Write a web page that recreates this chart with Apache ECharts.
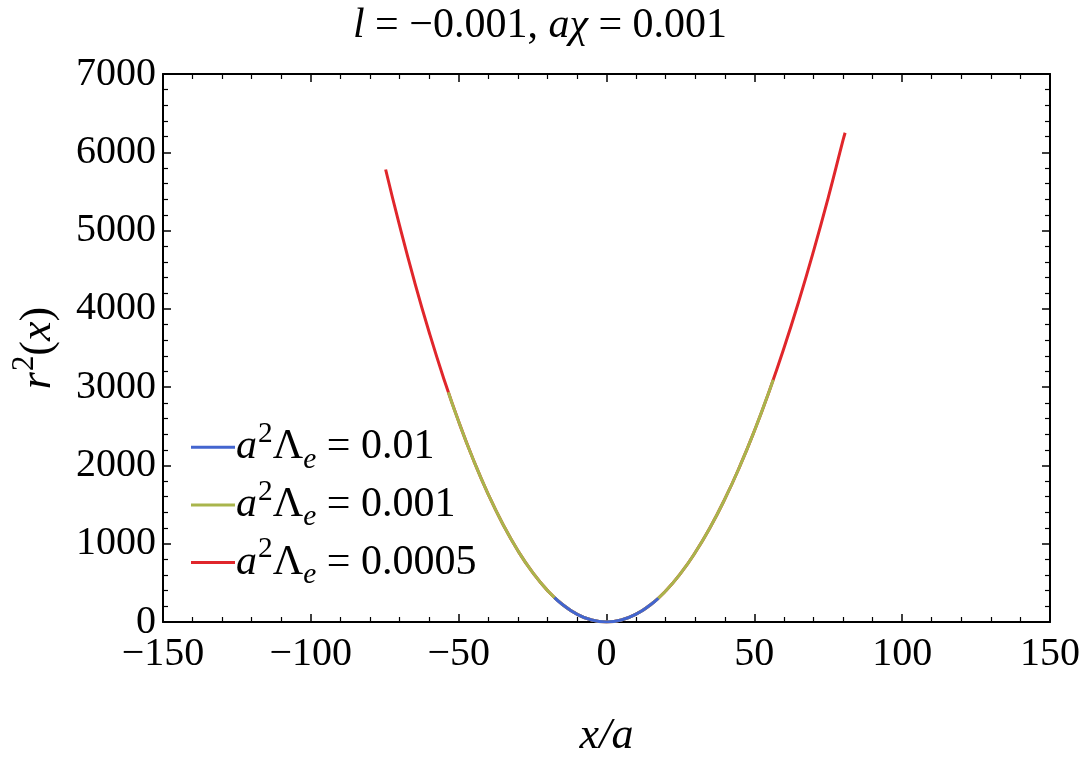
<!DOCTYPE html>
<html>
<head>
<meta charset="utf-8">
<script src="https://cdn.jsdelivr.net/npm/echarts@6/dist/echarts.min.js"></script>
<style>
  html, body { margin: 0; padding: 0; background: #fff; }
  #chart { width: 1080px; height: 768px; }
</style>
</head>
<body>
<div id="chart"></div>
<script>
// values: [x/a, r^2]
var blueData = [
    [-17.6, 312], [-15, 227], [-10, 100], [-5, 25], [0, 0],
    [5, 25], [10, 100], [15, 223], [17.5, 304]
]
var greenData = [
    [-53.5, 2936], [-50, 2560], [-45, 2069], [-40, 1631], [-35, 1246], [-30, 913],
    [-25, 633], [-20, 404], [-15, 227], [-10, 100], [-5, 25], [0, 0],
    [5, 25], [10, 100], [15, 223], [20, 396], [25, 617], [30, 887],
    [35, 1204], [40, 1569], [45, 1981], [50, 2440], [55, 2945], [56.4, 3095]
]
var redData = [
    [-74.7, 5780], [-70, 5065], [-65, 4357], [-60, 3704], [-55, 3105], [-50, 2560],
    [-45, 2069], [-40, 1631], [-35, 1246], [-30, 913], [-25, 633], [-20, 404],
    [-15, 227], [-10, 100], [-5, 25], [0, 0], [5, 25], [10, 100], [15, 223],
    [20, 396], [25, 617], [30, 887], [35, 1204], [40, 1569], [45, 1981],
    [50, 2440], [55, 2945], [60, 3496], [65, 4093], [70, 4735], [75, 5422],
    [80, 6154], [80.7, 6250]
]
var seriesNames = ['0.01', '0.001', '0.0005']   // a^2 Lambda_e values
var seriesColors = ['#4365cf', '#a9b54c', '#e0262b']
var xTicks = [-150, 150, 50]   // min, max, interval
var yTicks = [0, 7000, 1000]

var serif = '"Liberation Serif", "DejaVu Serif", serif'
var myChart = echarts.init(document.getElementById('chart'))

// shared rich styles for math-ish text
function mathRich(size) {
    var base = { fontFamily: serif, fontWeight: 'normal', color: '#000', lineHeight: size * 1.3 }
    return {
        n: Object.assign({ fontSize: size, verticalAlign: 'middle' }, base),
        i: Object.assign({ fontSize: size, fontStyle: 'italic', verticalAlign: 'middle' }, base),
        sup: Object.assign({ fontSize: size * 0.7, verticalAlign: 'top', padding: [0, 0, 0, 1] }, base),
        sub: Object.assign({ fontSize: size * 0.7, fontStyle: 'italic', verticalAlign: 'bottom' }, base)
    }
}

function axisBase(pos, range, showLabel, minorCount) {
    return {
        type: 'value',
        position: pos,
        min: range[0],
        max: range[1],
        interval: range[2],
        splitLine: { show: false },
        axisLine: { show: true, onZero: false, lineStyle: { color: '#000', width: 2 } },
        axisTick: { show: true, inside: true, length: 8, lineStyle: { color: '#000', width: 1.5 } },
        minorTick: { show: true, splitNumber: minorCount, length: 5, lineStyle: { color: '#000', width: 1.2 } },
        axisLabel: {
            show: showLabel,
            color: '#000',
            fontFamily: serif,
            fontSize: 40,
            margin: 12,
            formatter: function (v) { return v < 0 ? '\u2212' + (-v) : '' + v }
        }
    }
}

var xBottom = axisBase('bottom', xTicks, true, 5)
xBottom.name = 'x/a'
xBottom.nameLocation = 'middle'
xBottom.nameGap = 92
xBottom.nameTextStyle = { color: '#000', fontFamily: serif, fontStyle: 'italic', fontSize: 44 }
var xTop = axisBase('top', xTicks, false, 5)

var yLeft = axisBase('left', yTicks, true, 5)
yLeft.name = '{i|r}{sup|2}{n|(}{i|x}{n|)}'
yLeft.nameLocation = 'middle'
yLeft.nameGap = 96
yLeft.nameRotate = 90
yLeft.nameTextStyle = { rich: mathRich(44) }
yLeft.axisLabel.margin = 7
var yRight = axisBase('right', yTicks, false, 5)

function lineSeries(i, data, z) {
    return {
        name: seriesNames[i],
        type: 'line',
        data: data,
        showSymbol: false,
        smooth: true,
        z: z,
        color: seriesColors[i],
        lineStyle: { width: 3, color: seriesColors[i] }
    }
}

var option = {
    animation: false,
    backgroundColor: '#fff',
    title: {
        text: '{i|l}{n| = \u22120.001, }{i|a\u03c7}{n| = 0.001}',
        left: 'center',
        top: -6,
        textStyle: { fontWeight: 'normal', rich: mathRich(42) }
    },
    grid: { left: 163, right: 30, top: 74, bottom: 146, outerBoundsMode: 'none', containLabel: false },
    legend: {
        orient: 'vertical',
        left: 186,
        top: 415,
        itemWidth: 44,
        itemHeight: 3,
        itemGap: 3,
        icon: 'rect',
        data: seriesNames,
        formatter: function (name) {
            return '{i|a}{sup|2}{n|\u039b}{sub|e}{n| = ' + name + '}'
        },
        textStyle: { padding: [0, 0, 0, -4], rich: mathRich(42) }
    },
    xAxis: [xBottom, xTop],
    yAxis: [yLeft, yRight],
    series: [
        lineSeries(2, redData, 2),
        lineSeries(1, greenData, 3),
        lineSeries(0, blueData, 4)
    ]
}
myChart.setOption(option)
</script>
</body>
</html>
